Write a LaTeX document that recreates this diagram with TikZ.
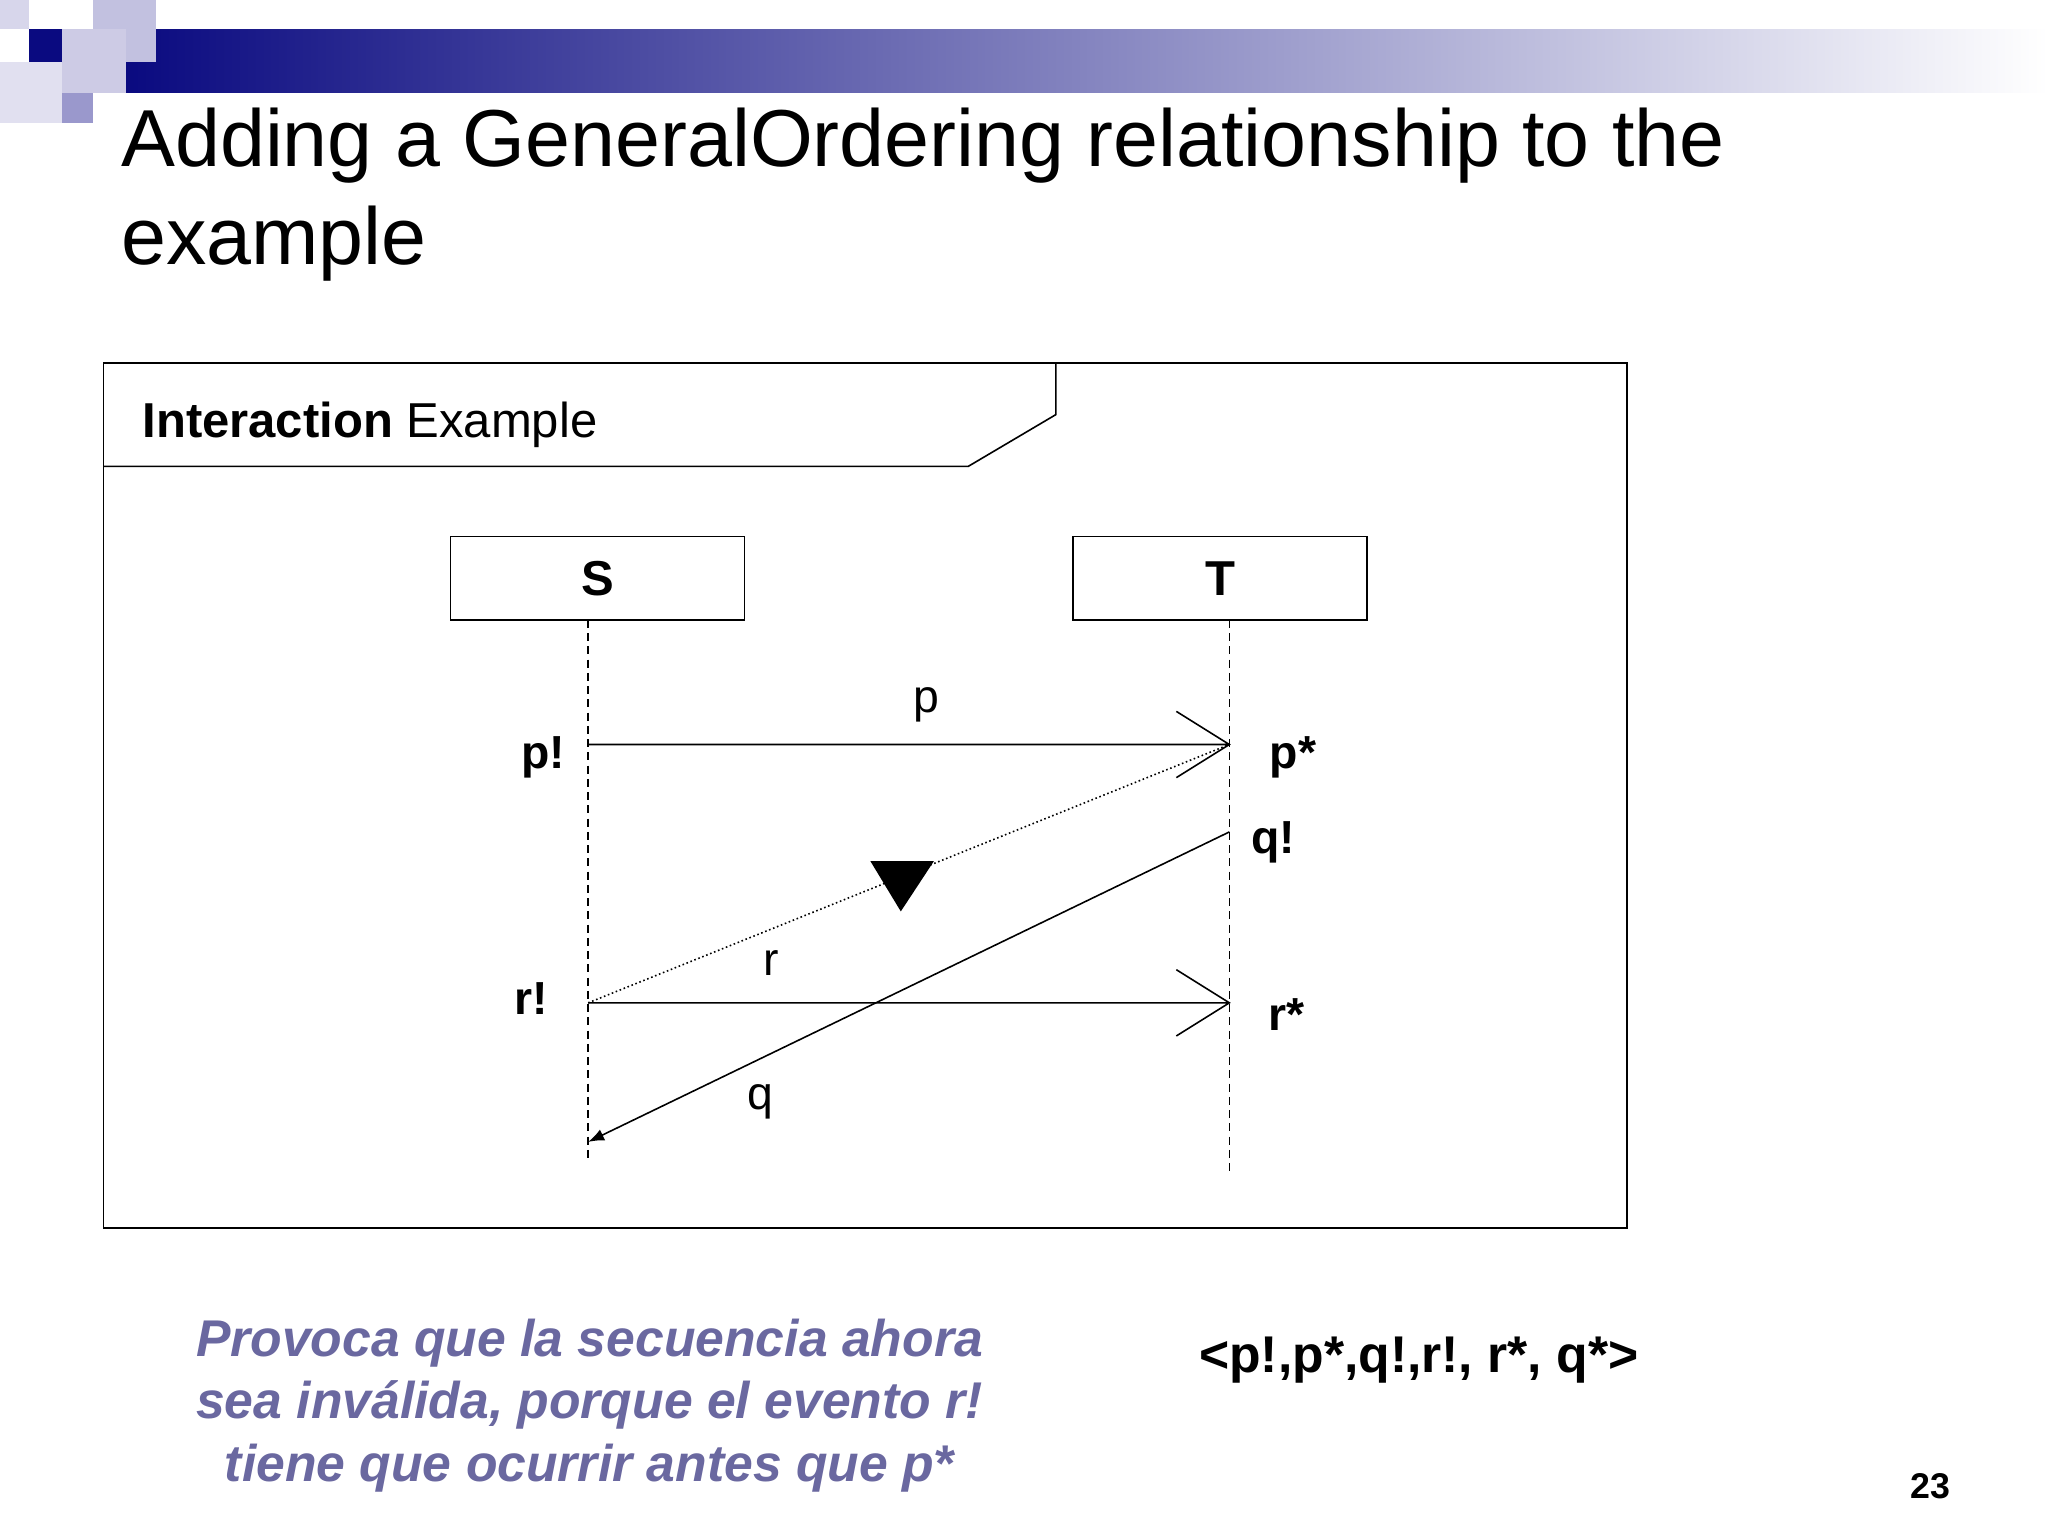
\documentclass[tikz,border=0pt]{standalone}
\usepackage{fontspec}
\setmainfont{Liberation Sans}
\usetikzlibrary{arrows.meta}
\definecolor{navy}{HTML}{0A0A80}
\definecolor{lav}{HTML}{9A98CC}
\definecolor{note}{HTML}{6A68A0}
\tikzset{lbl/.style={font=\fontsize{35}{40}\selectfont\bfseries},
 msg/.style={font=\fontsize{35}{40}\selectfont},
 obj/.style={draw,line width=1.2pt,minimum width=222pt,minimum height=63pt,font=\fontsize{37}{40}\selectfont\bfseries},
 life/.style={dashed,line width=1.2pt,dash pattern=on 6pt off 4pt}}
\begin{document}
\begin{tikzpicture}[x=1pt,y=-1pt]
\useasboundingbox (0,0) rectangle (1546,1160);
\fill[white] (0,0) rectangle (1546,1160);
% header
\shade[left color=navy,right color=white] (95,22) rectangle (1546,70);
\fill[lav!40] (0,0) rectangle (22,22);
\fill[lav!60] (70,0) rectangle (118,47);
\fill[navy] (22,22) rectangle (47,47);
\fill[lav!50] (47,22) rectangle (95,70);
\fill[lav] (47,70) rectangle (70,93);
\fill[lav!30] (0,47) rectangle (47,93);
\node[anchor=west,font=\fontsize{61}{74}\selectfont,align=left] (title) at (88,147) {Adding a GeneralOrdering relationship to the\\example};
% frame
\draw[line width=1.2pt] (78,274) rectangle (1228,927);
\draw[line width=1.2pt] (78,352) -- (731,352) -- (797,313) -- (797,274);
\node[anchor=west,font=\fontsize{37}{40}\selectfont] (fl) at (104,321) {\textbf{Interaction} Example};
% objects
\node[obj] (S) at (451,436.5) {S};
\node[obj] (T) at (921,436.5) {T};
\coordinate (Sb) at (444,875); \coordinate (Tb) at (928,885);
\draw[life] (444,468) -- (Sb);
\draw[life] (928,468) -- (Tb);
\coordinate (pS) at (444,562); \coordinate (pT) at (928,562);
\coordinate (rS) at (444,757); \coordinate (rT) at (928,757);
\coordinate (qT) at (928,628); \coordinate (qS) at (444,862);
\draw[line width=1.2pt] (pS) -- (pT) (888,537) -- (pT) -- (888,587);
\draw[line width=1.2pt] (rS) -- (rT) (888,732) -- (rT) -- (888,782);
\draw[line width=1.2pt,-{Latex[length=12pt,width=9pt]}] (qT) -- (qS);
\draw[dotted,line width=1.2pt] (rS) -- (pT);
\fill (657,650) -- (705,650) -- (680,688) -- cycle;
% labels
\node[msg] (lp) at (699,532) {p};
\node[msg] (lr) at (582,727) {r};
\node[msg] (lq) at (574,832) {q};
\node[lbl] at (410,572) {p!};
\node[lbl] at (401,754) {r!};
\node[lbl] at (976,572) {p*};
\node[lbl] at (961,636) {q!};
\node[lbl] at (971,766) {r*};
% bottom
\node[font=\fontsize{39}{47}\selectfont\bfseries\itshape,text=note,align=center] (nt) at (445,1061) {Provoca que la secuencia ahora\\sea inválida, porque el evento r!\\tiene que ocurrir antes que p*};
\node[font=\fontsize{39}{44}\selectfont\bfseries] (seq) at (1071,1027) {<p!,p*,q!,r!, r*, q*>};
\node[font=\fontsize{27}{30}\selectfont\bfseries] (pg) at (1457,1122) {23};
\end{tikzpicture}
\end{document}
